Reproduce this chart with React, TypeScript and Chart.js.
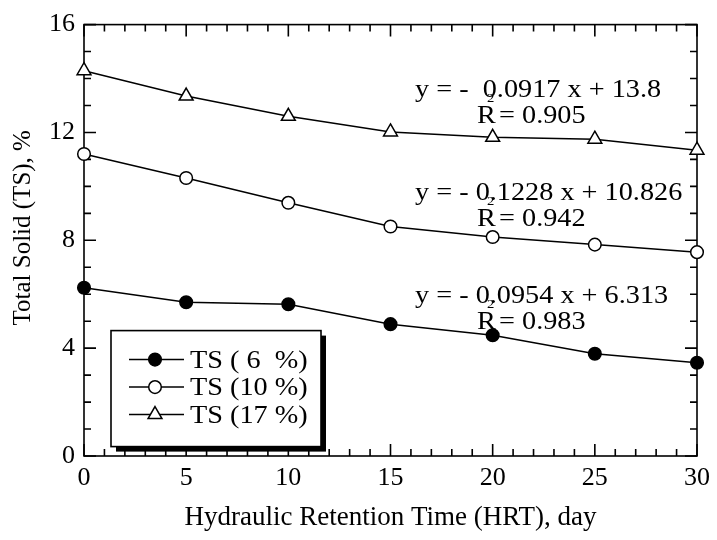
import React, { useEffect, useRef } from 'react';
import { Chart, registerables } from 'chart.js';

Chart.register(...registerables);

// ---- data ----
const hrtDays = [0, 5, 10, 15, 20, 25, 30];
const ts6 = [6.24, 5.7, 5.63, 4.89, 4.48, 3.79, 3.46];
const ts10 = [11.2, 10.31, 9.39, 8.51, 8.12, 7.84, 7.56];
const ts17 = [14.29, 13.35, 12.6, 12.02, 11.82, 11.75, 11.34];
const seriesLabels = ['TS ( 6  %)', 'TS (10 %)', 'TS (17 %)'];
const equationTexts = ['y = -  0.0917 x + 13.8', 'y = - 0.1228 x + 10.826', 'y = - 0.0954 x + 6.313'];
const r2Texts = ['0.905', '0.942', '0.983'];
const xAxisTitle = 'Hydraulic Retention Time (HRT), day';
const yAxisTitle = 'Total Solid (TS), %';

const FONT = '"Liberation Serif", "Times New Roman", serif';
const SX = 1.13; // horizontal stretch of drawn text

function drawMarker(ctx: CanvasRenderingContext2D, style: string, x: number, y: number) {
  ctx.save();
  ctx.lineWidth = 1.5;
  ctx.strokeStyle = '#000';
  ctx.beginPath();
  if (style === 'triangle') {
    const r = 8;
    ctx.moveTo(x, y - r);
    ctx.lineTo(x + r * Math.sin((2 * Math.PI) / 3), y - r * Math.cos((2 * Math.PI) / 3));
    ctx.lineTo(x + r * Math.sin((4 * Math.PI) / 3), y - r * Math.cos((4 * Math.PI) / 3));
    ctx.closePath();
    ctx.fillStyle = '#fff';
  } else {
    ctx.arc(x, y, 6.3, 0, Math.PI * 2);
    ctx.fillStyle = style === 'filled' ? '#000' : '#fff';
  }
  ctx.fill();
  ctx.stroke();
  ctx.restore();
}

function stretchedText(ctx: CanvasRenderingContext2D, text: string, x: number, y: number, size: number) {
  ctx.save();
  ctx.translate(x, y);
  ctx.scale(SX, 1);
  ctx.font = `${size}px ${FONT}`;
  ctx.fillStyle = '#000';
  ctx.textAlign = 'left';
  ctx.textBaseline = 'alphabetic';
  ctx.fillText(text, 0, 0);
  ctx.restore();
}

const framePlugin = {
  id: 'frameTicks',
  beforeDatasetsDraw(chart: any) {
    const { ctx, chartArea: a, scales } = chart;
    const xs = scales.x;
    const ys = scales.y;
    ctx.save();
    ctx.strokeStyle = '#000';
    ctx.lineWidth = 1.6;
    ctx.strokeRect(a.left, a.top, a.right - a.left, a.bottom - a.top);
    ctx.beginPath();
    for (let v = xs.min; v <= xs.max; v += 1) {
      const px = xs.getPixelForValue(v);
      const len = v % 5 === 0 ? 12 : 7;
      ctx.moveTo(px, a.bottom);
      ctx.lineTo(px, a.bottom - len);
      ctx.moveTo(px, a.top);
      ctx.lineTo(px, a.top + len);
    }
    for (let v = ys.min; v <= ys.max; v += 1) {
      const py = ys.getPixelForValue(v);
      const len = v % 4 === 0 ? 12 : 7;
      ctx.moveTo(a.left, py);
      ctx.lineTo(a.left + len, py);
      ctx.moveTo(a.right, py);
      ctx.lineTo(a.right - len, py);
    }
    ctx.stroke();
    ctx.restore();
  },
  afterDraw(chart: any) {
    const { ctx, chartArea: a } = chart;
    // regression annotations
    const eqX = a.left + 331;
    const rX = a.left + 393;
    const eqBase = [a.top + 72, a.top + 175, a.top + 278];
    equationTexts.forEach((t, i) => {
      const b = eqBase[i];
      stretchedText(ctx, t, eqX, b, 25);
      stretchedText(ctx, 'R', rX, b + 26, 25);
      stretchedText(ctx, ' = ' + r2Texts[i], rX + 15, b + 26, 25);
      stretchedText(ctx, '2', rX + 10, b + 5, 13);
    });

    // legend
    const lx = a.left + 27;
    const ly = a.top + 306;
    const lw = 210;
    const lh = 116;
    ctx.save();
    ctx.fillStyle = '#000';
    ctx.fillRect(lx + 5, ly + 5, lw, lh);
    ctx.fillStyle = '#fff';
    ctx.fillRect(lx, ly, lw, lh);
    ctx.strokeStyle = '#000';
    ctx.lineWidth = 1.6;
    ctx.strokeRect(lx, ly, lw, lh);
    const styles = ['filled', 'open', 'triangle'];
    seriesLabels.forEach((lab, i) => {
      const cy = ly + 29 + i * 27.5;
      ctx.beginPath();
      ctx.lineWidth = 1.5;
      ctx.moveTo(lx + 18, cy);
      ctx.lineTo(lx + 73, cy);
      ctx.stroke();
      drawMarker(ctx, styles[i], lx + 44, cy);
      stretchedText(ctx, lab, lx + 79, cy + 8, 25);
    });
    ctx.restore();
  },
};

export default function App() {
  const ref = useRef<HTMLCanvasElement | null>(null);
  useEffect(() => {
    const canvas = ref.current;
    if (!canvas) return;
    const common = {
      borderColor: '#000',
      borderWidth: 1.5,
      pointBorderColor: '#000',
      pointBorderWidth: 1.5,
      clip: false as any,
      tension: 0,
    };
    const chart = new Chart(canvas, {
      type: 'line',
      data: {
        labels: hrtDays,
        datasets: [
          {
            ...common,
            label: seriesLabels[0],
            data: hrtDays.map((x, i) => ({ x, y: ts6[i] })),
            pointStyle: 'circle',
            pointRadius: 6.3,
            pointBackgroundColor: '#000',
          },
          {
            ...common,
            label: seriesLabels[1],
            data: hrtDays.map((x, i) => ({ x, y: ts10[i] })),
            pointStyle: 'circle',
            pointRadius: 6.3,
            pointBackgroundColor: '#fff',
          },
          {
            ...common,
            label: seriesLabels[2],
            data: hrtDays.map((x, i) => ({ x, y: ts17[i] })),
            pointStyle: 'triangle',
            pointRadius: 8,
            pointBackgroundColor: '#fff',
          },
        ],
      },
      options: {
        responsive: false,
        animation: false,
        devicePixelRatio: 1,
        layout: { padding: { top: 20, right: 16, left: 0, bottom: 0 } },
        plugins: { legend: { display: false }, tooltip: { enabled: false } },
        scales: {
          x: {
            type: 'linear',
            min: 0,
            max: 30,
            grid: { display: false, drawTicks: false },
            border: { display: false },
            ticks: { stepSize: 5, padding: 7, color: '#000', font: { family: FONT, size: 26 } },
            title: {
              display: true,
              text: xAxisTitle,
              color: '#000',
              font: { family: FONT, size: 27 },
              padding: { top: 0, bottom: 6 },
            },
            afterFit: (s: any) => {
              s.height = 84;
            },
          },
          y: {
            type: 'linear',
            min: 0,
            max: 16,
            grid: { display: false, drawTicks: false },
            border: { display: false },
            ticks: { stepSize: 4, padding: 9, color: '#000', font: { family: FONT, size: 26 } },
            title: {
              display: true,
              text: '    ' + yAxisTitle,
              color: '#000',
              font: { family: FONT, size: 25 },
              padding: { top: 8, bottom: 0 },
            },
            afterFit: (s: any) => {
              s.width = 84;
            },
          },
        },
      },
      plugins: [framePlugin],
    });
    return () => chart.destroy();
  }, []);
  return (
    <div style={{ position: 'fixed', left: 0, top: 0, width: 717, height: 540, background: '#fff' }}>
      <canvas ref={ref} width={717} height={540} style={{ display: 'block', width: 717, height: 540 }} />
    </div>
  );
}
